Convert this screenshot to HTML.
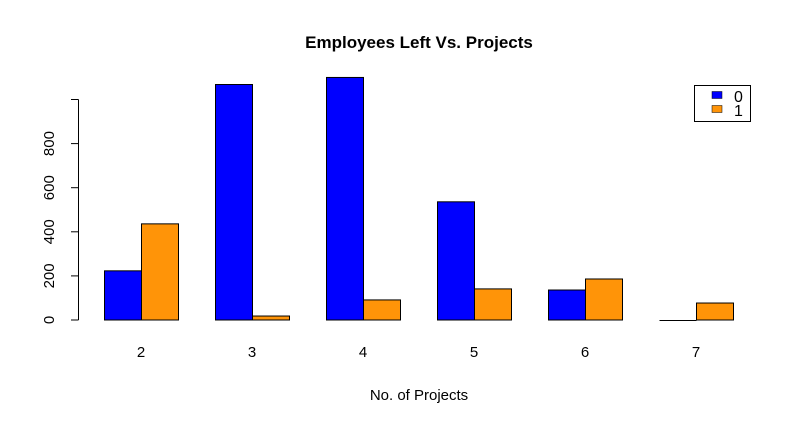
<!DOCTYPE html>
<html><head><meta charset="utf-8"><style>
body{margin:0;background:#fff;}
svg{font-family:"Liberation Sans",Arial,sans-serif;}
</style></head><body>
<svg id="c" width="800" height="421">
<text x="419" y="48" text-anchor="middle" font-size="17" font-weight="bold">Employees Left Vs. Projects</text>
<text x="419" y="400" text-anchor="middle" font-size="15">No. of Projects</text>
<g id="bars"></g><g id="yaxis"></g><g id="xlabels"></g>
<g>
<rect x="694.5" y="85.5" width="56" height="36" fill="#fff" stroke="#000"/>
<rect x="712" y="91.5" width="10" height="7" fill="#0000ff" stroke="#000" stroke-width="0.5"/>
<rect x="712" y="105.5" width="10" height="7" fill="#ff9408" stroke="#000" stroke-width="0.5"/>
<text x="734" y="102" font-size="16">0</text>
<text x="734" y="116" font-size="16">1</text>
</g>
</svg>
<script>
const categories=["2","3","4","5","6","7"];
const stayed=[223,1068,1100,536,136,0];
const left=[436,18,91,141,186,77];
const yTicks=[0,200,400,600,800,1000];
const yTickLabels=["0","200","400","600","800",""];
const NS="http://www.w3.org/2000/svg";
const y=v=>320-v*0.2205;
const x=i=>104+111*i;
const bw=37;
function mk(t,a,p){const e=document.createElementNS(NS,t);for(const k in a)e.setAttribute(k,a[k]);p.appendChild(e);return e;}
const bars=document.getElementById('bars'),ya=document.getElementById('yaxis'),xl=document.getElementById('xlabels');
function bar(xx,v,col){
 const h=320-y(v);
 if(h<0.5){return mk('line',{x1:xx,x2:xx+bw,y1:320.5,y2:320.5,stroke:'#000'},bars);}
 return mk('rect',{x:xx,y:y(v),width:bw,height:h,fill:col,stroke:'#000','stroke-width':1},bars);
}
categories.forEach((c,i)=>{
 const b0=bar(x(i)+0.5,stayed[i],'#0000ff');
 
 
 const b1=bar(x(i)+bw+0.5,left[i],'#ff9408');
 
 
 const t=mk('text',{x:x(i)+bw,y:357,'text-anchor':'middle','font-size':15},xl);
 t.textContent=c;
 
 
});
const axl=mk('line',{x1:78.5,x2:78.5,y1:y(0),y2:y(1000),stroke:'#000'},ya);


yTicks.forEach((v,i)=>{
 const tk=mk('line',{x1:71,x2:78.5,y1:y(v),y2:y(v),stroke:'#000'},ya);
 
 
 if(yTickLabels[i]){
  const t=mk('text',{x:0,y:0,'text-anchor':'middle','font-size':15,transform:`translate(54,${y(v)}) rotate(-90)`},ya);
  t.textContent=yTickLabels[i];
  
  
 }
});
</script>
</body></html>
